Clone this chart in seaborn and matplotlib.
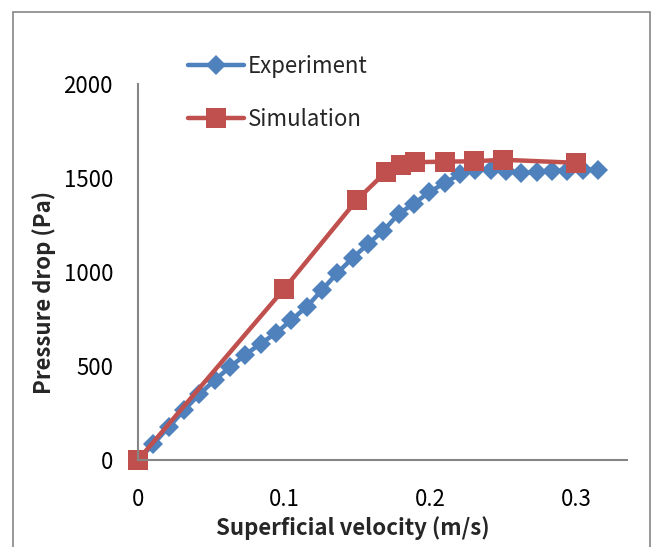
import pandas as pd
import seaborn as sns
import matplotlib.pyplot as plt
from matplotlib.patches import Rectangle

# experiment data (superficial velocity m/s, pressure drop Pa)
exp_v = [0.0, 0.0105, 0.021, 0.0315, 0.042, 0.0525, 0.063, 0.0735, 0.084, 0.0945,
         0.105, 0.1155, 0.126, 0.1365, 0.147, 0.1575, 0.168, 0.1785, 0.189, 0.1995,
         0.21, 0.2205, 0.231, 0.2415, 0.252, 0.2625, 0.273, 0.2835, 0.294, 0.3045, 0.315]
exp_p = [0, 85, 175, 265, 350, 425, 495, 560, 620, 675,
         745, 815, 905, 995, 1075, 1150, 1220, 1310, 1365, 1425,
         1475, 1520, 1545, 1545, 1540, 1525, 1535, 1540, 1540, 1545, 1545]

# simulation data
sim_v = [0.0, 0.1, 0.15, 0.17, 0.18, 0.19, 0.21, 0.23, 0.25, 0.3]
sim_p = [0, 910, 1385, 1535, 1570, 1585, 1588, 1590, 1598, 1582]

exp_df = pd.DataFrame({"v": exp_v, "p": exp_p})
sim_df = pd.DataFrame({"v": sim_v, "p": sim_p})

sns.set_style("white")
plt.rcParams['font.family'] = ['Noto Sans CJK KR', 'DejaVu Sans']

fig = plt.figure(figsize=(6.55, 5.47), dpi=100)
ax = fig.add_axes([0.2107, 0.159, 0.7466, 0.687])

sns.lineplot(data=exp_df, x="v", y="p", ax=ax, color="#4F81BD", lw=3.2,
             marker="D", markersize=10, markeredgewidth=0, label="Experiment",
             clip_on=False)
sns.lineplot(data=sim_df, x="v", y="p", ax=ax, color="#C0504D", lw=3.2,
             marker="s", markersize=14, markeredgewidth=0, label="Simulation",
             clip_on=False)

ax.set_xlim(0, 0.335)
ax.set_ylim(0, 2000)
ax.set_xticks([0, 0.1, 0.2, 0.3])
ax.set_xticklabels(["0", "0.1", "0.2", "0.3"])
ax.set_yticks([0, 500, 1000, 1500, 2000])

for s in ["top", "right"]:
    ax.spines[s].set_visible(False)
for s in ["left", "bottom"]:
    ax.spines[s].set_color("#868686")
    ax.spines[s].set_linewidth(1.5)
ax.tick_params(axis="both", direction="out", length=6, width=1.5, color="#868686",
               labelsize=16, labelcolor="black")
ax.tick_params(axis="x", pad=14)
ax.tick_params(axis="y", pad=12)

ax.set_xlabel("Superficial velocity (m/s)", fontsize=16, fontweight="bold")
ax.set_ylabel("Pressure drop (Pa)", fontsize=16, fontweight="bold")
ax.xaxis.set_label_coords(0.44, -0.15)
ax.yaxis.set_label_coords(-0.168, 0.447)

ax.legend(loc="upper left", bbox_to_anchor=(0.287, 0.9), bbox_transform=fig.transFigure,
          frameon=False, fontsize=16, handlelength=2.5, handletextpad=0.2,
          labelspacing=1.35, borderpad=0, borderaxespad=0)

# outer chart frame
fig.patches.append(Rectangle((0.02, -0.02), 0.972, 0.998, transform=fig.transFigure,
                             fill=False, edgecolor="#868686", lw=1.2))

fig.savefig("out.png", dpi=100)
